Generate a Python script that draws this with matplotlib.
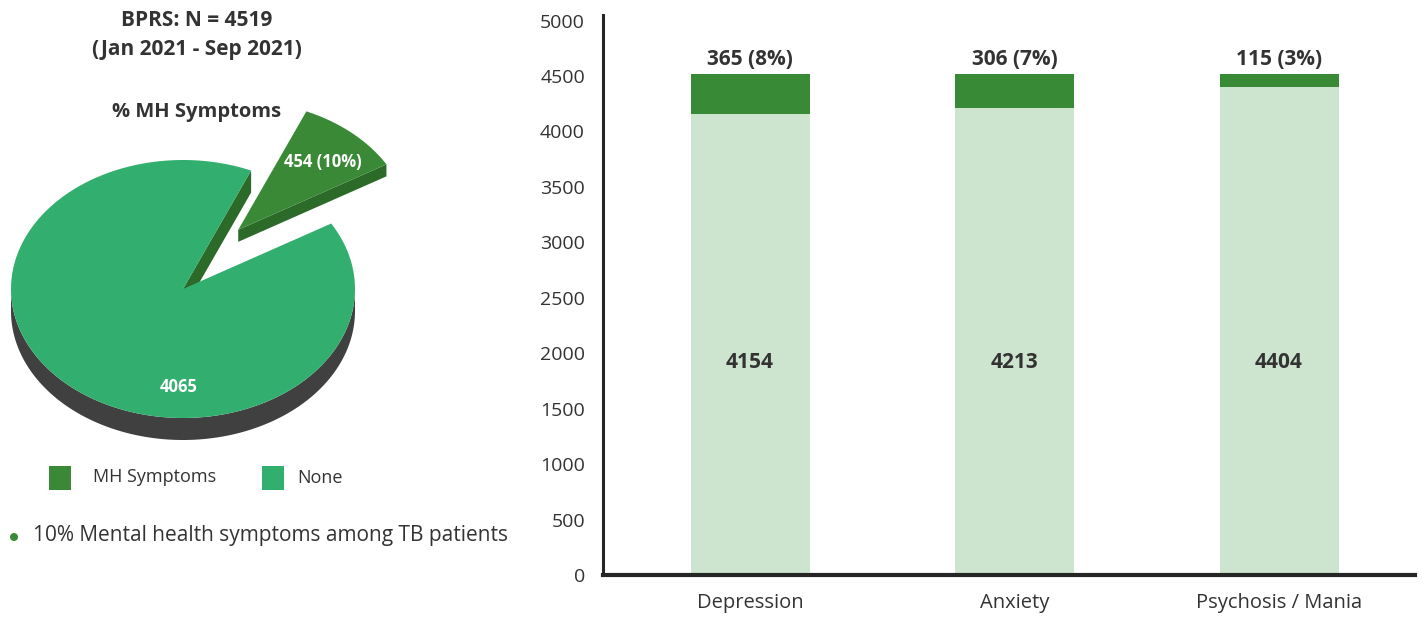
import numpy as np
import matplotlib
matplotlib.use("Agg")
import matplotlib.pyplot as plt
from matplotlib.patches import Polygon, Rectangle, Circle

# ---- data ----
pie_labels = ["MH Symptoms", "None"]
pie_values = [454, 4065]
pie_total = 4519
pie_pct = [10, 90]

bar_categories = ["Depression", "Anxiety", "Psychosis / Mania"]
without_symptom = [4154, 4213, 4404]
with_symptom = [365, 306, 115]
with_symptom_pct = [8, 7, 3]
y_ticks = list(range(0, 5001, 500))

# ---- style ----
C_MH = "#3A8936"
C_NONE = "#32AE6E"
C_MH_SIDE = "#2C6A2A"
C_RIM = "#404040"
C_BAR_LIGHT = "#CDE5CF"
C_BAR_DARK = "#388A36"
TXT = "#333333"

plt.rcParams['font.family'] = ['Open Sans', 'DejaVu Sans']

fig = plt.figure(figsize=(14.22, 6.17), dpi=100)
fig.patch.set_facecolor("white")

# overlay axes in pixel units for the 3-D pie panel
ov = fig.add_axes([0, 0, 1, 1])
ov.set_xlim(0, 1422)
ov.set_ylim(617, 0)
ov.axis('off')

cx, cy, R, k = 183, 289, 172, 0.75
D_main, D_wedge = 22, 12
start = 30.5
explode = 0.56
explode_dir = 55.0

fracs = np.array(pie_values) / sum(pie_values)
edges = start + 360 * np.concatenate([[0], np.cumsum(fracs)])
mh_t1, mh_t2 = edges[0], edges[1]
none_t1, none_t2 = edges[1], edges[2]


def pt(ox, oy, t):
    a = np.radians(t)
    return np.array([ox + R * np.cos(a), oy - k * R * np.sin(a)])


def arc(ox, oy, t1, t2, n=200):
    a = np.radians(np.linspace(t1, t2, n))
    return np.column_stack([ox + R * np.cos(a), oy - k * R * np.sin(a)])


# main slice: rim, cut face, top
top_front = arc(cx, cy, 180, 360)
rim = np.vstack([top_front, (top_front + [0, D_main])[::-1]])
ov.add_patch(Polygon(rim, closed=True, color=C_RIM, lw=0))
p = pt(cx, cy, none_t1)
ov.add_patch(Polygon([[cx, cy], p, p + [0, D_main], [cx, cy + D_main]],
                     closed=True, color=C_MH_SIDE, lw=0))
ov.add_patch(Polygon(np.vstack([[cx, cy], arc(cx, cy, none_t1, none_t2)]),
                     closed=True, color=C_NONE, lw=0))

# exploded slice
d = np.radians(explode_dir)
ox = cx + explode * R * np.cos(d)
oy = cy - k * explode * R * np.sin(d)
q = pt(ox, oy, mh_t1)
ov.add_patch(Polygon([[ox, oy], q, q + [0, D_wedge], [ox, oy + D_wedge]],
                     closed=True, color=C_MH_SIDE, lw=0))
ov.add_patch(Polygon(np.vstack([[ox, oy], arc(ox, oy, mh_t1, mh_t2)]),
                     closed=True, color=C_MH, lw=0))

ov.text(323, 162, f"{pie_values[0]} ({pie_pct[0]}%)", color="white",
        fontsize=12, fontweight="bold", ha="center", va="center")
ov.text(179, 387, f"{pie_values[1]}", color="white",
        fontsize=12, fontweight="bold", ha="center", va="center")

# titles
ov.text(197, 20, f"BPRS: N = {pie_total}", color=TXT, fontsize=15,
        fontweight="bold", ha="center", va="center")
ov.text(197, 50, "(Jan 2021 - Sep 2021)", color=TXT, fontsize=15,
        fontweight="bold", ha="center", va="center")
ov.text(197, 112, "% MH Symptoms", color=TXT, fontsize=14.5,
        fontweight="bold", ha="center", va="center")

# legend
ov.add_patch(Rectangle((49, 466), 22, 24, color=C_MH, lw=0))
ov.text(93, 477, pie_labels[0], color=TXT, fontsize=13, ha="left", va="center")
ov.add_patch(Rectangle((262, 466), 22, 24, color=C_NONE, lw=0))
ov.text(297, 478, pie_labels[1], color=TXT, fontsize=13, ha="left", va="center")

# bullet note
ov.add_patch(Circle((14, 537), 4, color=C_BAR_DARK, lw=0))
ov.text(33, 535, f"{pie_pct[0]}% Mental health symptoms among TB patients",
        color=TXT, fontsize=15, ha="left", va="center")

# ---- stacked bars ----
ax = fig.add_axes([603 / 1422, 42 / 617, 812 / 1422, 560 / 617])
x = np.arange(len(bar_categories))
width = 0.45
ax.bar(x, without_symptom, width=width, color=C_BAR_LIGHT, lw=0)
ax.bar(x, with_symptom, bottom=without_symptom, width=width, color=C_BAR_DARK, lw=0)

for i, (b, w, pc) in enumerate(zip(without_symptom, with_symptom, with_symptom_pct)):
    ax.annotate(f"{w} ({pc}%)", (x[i], b + w), xytext=(0, 3),
                textcoords="offset points", ha="center", va="bottom",
                fontsize=15, fontweight="bold", color=TXT)
    ax.text(x[i], 1920, f"{b}", ha="center", va="center",
            fontsize=15, fontweight="bold", color=TXT)

ax.set_xlim(-0.556, 2.514)
ax.set_ylim(0, 5050)
ax.set_yticks(y_ticks)
ax.set_xticks(x)
ax.set_xticklabels(bar_categories)
ax.tick_params(axis='both', length=0, labelsize=14, colors=TXT)
ax.tick_params(axis='x', labelsize=14.5)
ax.tick_params(axis='y', pad=13)
ax.tick_params(axis='x', pad=13)
for s in ("top", "right"):
    ax.spines[s].set_visible(False)
ax.spines["left"].set_linewidth(2.2)
ax.spines["left"].set_color("#262626")
ax.spines["bottom"].set_linewidth(3)
ax.spines["bottom"].set_color("#262626")
ax.set_facecolor("none")

fig.savefig("out.png", dpi=100, facecolor="white")
